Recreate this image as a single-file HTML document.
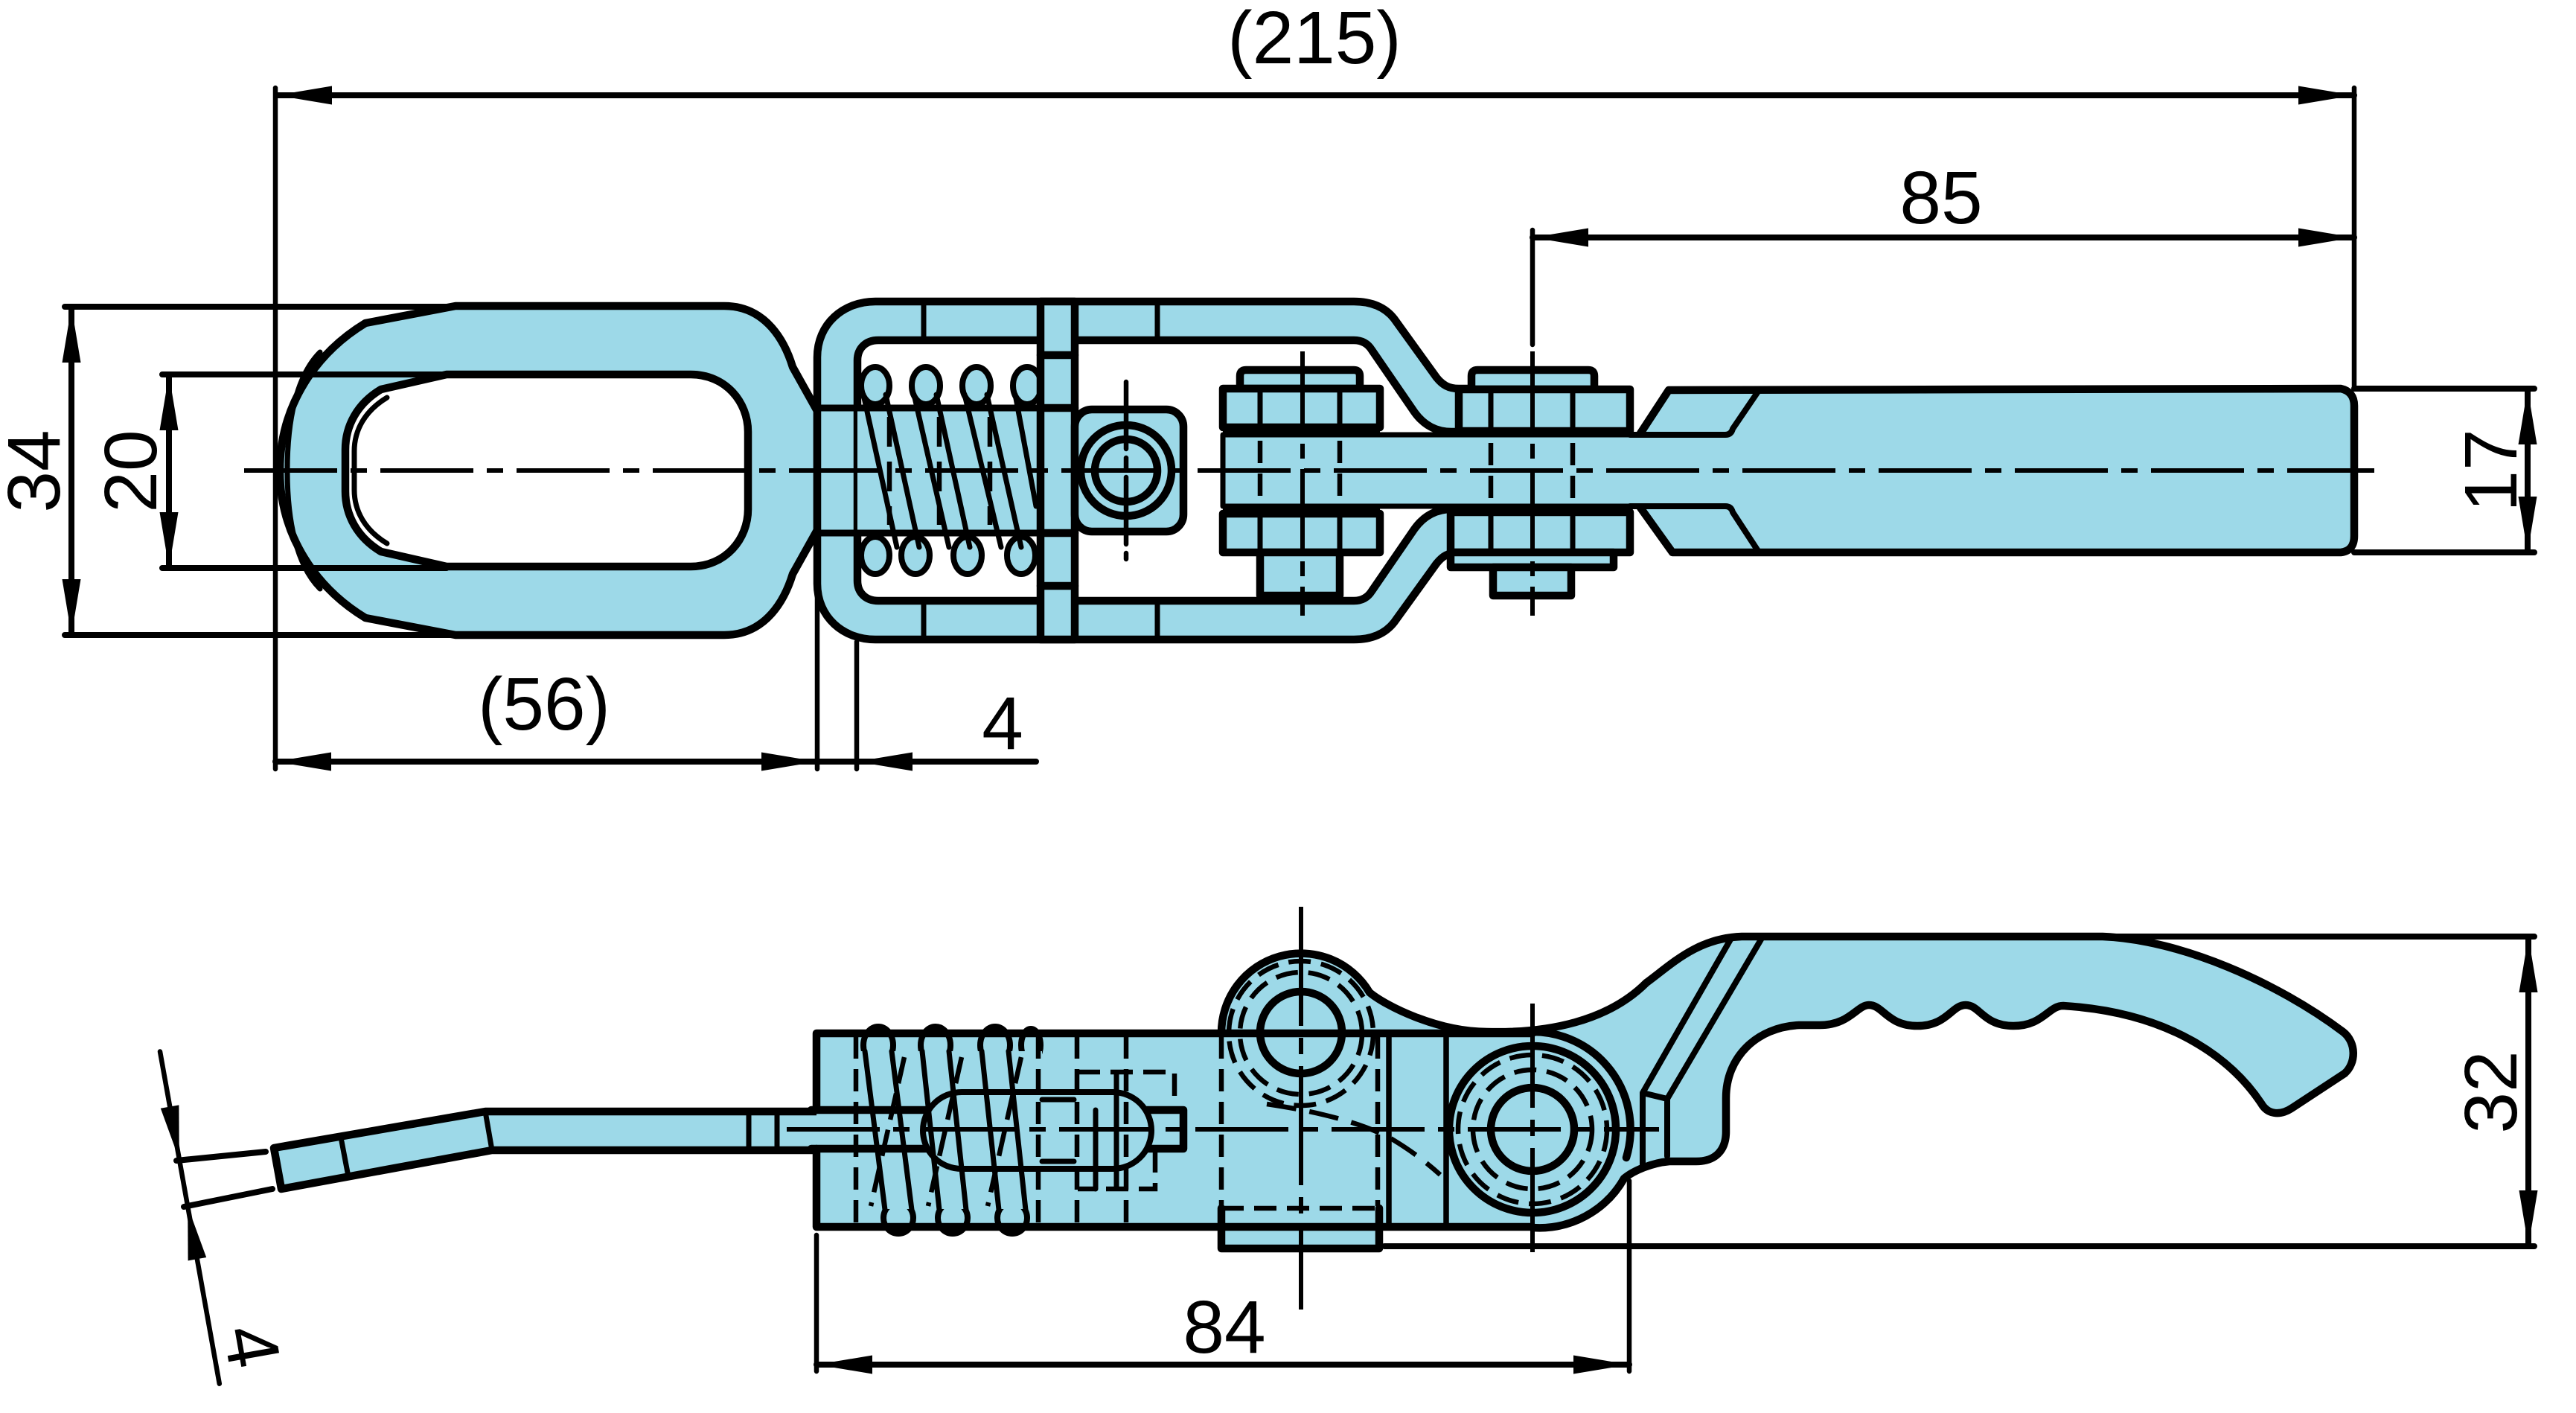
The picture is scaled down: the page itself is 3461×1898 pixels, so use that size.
<!DOCTYPE html>
<html><head><meta charset="utf-8">
<style>
html,body{margin:0;padding:0;background:#fff;}
svg{display:block;}
</style></head><body>
<svg xmlns="http://www.w3.org/2000/svg" width="3461" height="1898" viewBox="0 0 3461 1898">
<defs>
<style>
.o{stroke:#000;stroke-width:10.5;stroke-linejoin:round;stroke-linecap:round}
.t{stroke:#000;stroke-width:7;stroke-linecap:round;stroke-linejoin:round}
.h{stroke:#000;stroke-width:6.5;fill:none;stroke-dasharray:30 14}
.c{stroke:#000;stroke-width:6;fill:none;stroke-dasharray:125 18 22 18}
.d{stroke:#000;stroke-width:8;fill:none;stroke-linecap:round}
.e{stroke:#000;stroke-width:6.5;fill:none;stroke-linecap:round}
.b{fill:#9dd9e8}
.w{fill:#fff}
.n{fill:none}
.k{fill:#000}
text{font-family:"Liberation Sans",sans-serif;font-size:100px;fill:#000;}
</style>
</defs>
<rect x="0" y="0" width="3461" height="1898" fill="#fff"/>

<!-- ================= TOP VIEW ================= -->
<!-- Eye -->
<path class="o b" d="M612,411 L973,411 C1030,411 1055,460 1065,493 L1098,552 L1098,712 L1065,771 C1055,804 1030,853 973,853 L612,853 L491,830 C425,790 376,720 376,632 C376,544 425,474 491,434 Z"/>
<path class="t n" d="M430,473 C398,505 386,565 386,632 C386,699 398,759 430,791"/>
<path class="o w" d="M600,503 L928,503 C975,503 1005,540 1005,580 L1005,684 C1005,724 975,761 928,761 L600,761 L512,741 C480,722 464,692 464,660 L464,604 C464,572 480,542 512,523 Z"/>
<path class="t n" d="M520,534 C490,552 476,578 476,606 L476,658 C476,686 490,712 520,730"/>

<!-- Frame -->
<path class="o b" d="M1098,784 L1098,480 C1098,435 1133,405 1176,405 L1819,405 C1845,405 1862,414 1873,428 L1930,507 C1938,517 1946,522 1960,522 L2003,522 L2003,742 L1960,742 C1946,742 1938,747 1930,757 L1873,836 C1862,850 1845,859 1819,859 L1176,859 C1133,859 1098,829 1098,784 Z"/>
<path class="o w" d="M1152,548 L1152,484 C1152,468 1163,457 1180,457 L1819,457 C1830,457 1838,462 1843,470 L1900,553 C1912,570 1928,580 1950,580 L1962,580 L1962,684 L1950,684 C1928,684 1912,694 1900,711 L1843,794 C1838,802 1830,807 1819,807 L1180,807 C1163,807 1152,796 1152,780 Z"/>
<path class="t n" d="M1241,405 V457 M1241,807 V859 M1555,405 V457 M1555,807 V859"/>

<!-- Rod through spring -->
<rect class="b" x="1152" y="548" width="246" height="168"/>
<path class="o n" d="M1098,548 L1398,548 M1098,716 L1398,716" style="stroke-width:9"/>

<!-- Spring loops (top view) -->
<g class="o b" style="stroke-width:8">
<ellipse cx="1176" cy="518" rx="19" ry="25"/>
<ellipse cx="1244" cy="518" rx="19" ry="25"/>
<ellipse cx="1312" cy="518" rx="19" ry="25"/>
<ellipse cx="1380" cy="518" rx="19" ry="25"/>
<ellipse cx="1176" cy="746" rx="19" ry="25"/>
<ellipse cx="1230" cy="746" rx="19" ry="25"/>
<ellipse cx="1300" cy="746" rx="19" ry="25"/>
<ellipse cx="1372" cy="746" rx="19" ry="25"/>
</g>
<path class="t n" d="M1160,530 L1205,735 M1190,530 L1235,735 M1228,530 L1275,735 M1258,530 L1303,735 M1296,530 L1345,735 M1326,530 L1372,735 M1364,530 L1392,680"/>
<path class="h" d="M1195,560 V705 M1262,560 V705 M1330,560 V705" style="stroke-dasharray:40 20"/>

<!-- Plate -->
<rect class="o b" x="1398" y="405" width="46" height="454"/>
<path class="o n" d="M1398,477 H1444 M1398,787 H1444 M1398,548 H1444 M1398,716 H1444"/>

<!-- Pin block -->
<rect class="o b" x="1444" y="550" width="146" height="164" rx="23"/>
<circle class="o n" cx="1513" cy="632" r="61"/>
<circle class="o n" cx="1513" cy="632" r="42"/>
<path class="e" d="M1513,513 V751" style="stroke-dasharray:90 12 14 12"/>

<!-- Bar -->
<rect class="b" x="1643" y="584" width="570" height="96"/>
<path class="t n" d="M1643,584 H2200 M1643,680 H2200 M1643,584 V680"/>

<!-- Handle -->
<path class="b" d="M2190,584 L2204,584 L2242,524 L3147,522 Q3163,524 3163,545 L3163,720 Q3163,742 3147,742 L2247,742 L2204,680 L2190,680 Z"/>
<path class="o n" d="M2204,582 L2242,524 L3145,522 Q3163,526 3163,545 L3163,720 Q3163,740 3145,742 L2247,742 L2204,682"/>
<path class="t n" d="M2190,584 L2318,584 Q2326,584 2328,576 L2362,526 M2190,680 L2318,680 Q2326,680 2328,688 L2362,740" style="stroke-width:8"/>

<!-- Bolt 1 -->
<path class="o b" d="M1666,522 V505 Q1666,497 1674,497 H1819 Q1827,497 1827,505 V522 Z"/>
<rect class="o b" x="1643" y="522" width="211" height="52"/>
<rect class="o b" x="1643" y="690" width="211" height="52"/>
<rect class="o b" x="1693" y="742" width="107" height="58"/>
<rect class="k" x="1643" y="574" width="211" height="10"/>
<rect class="k" x="1643" y="680" width="211" height="10"/>
<path class="t n" d="M1693,522 V574 M1800,522 V574 M1693,690 V742 M1800,690 V742"/>
<path class="h" d="M1693,592 V672 M1800,592 V672"/>

<!-- Bolt 2 -->
<path class="o b" d="M1977,523 V505 Q1977,497 1985,497 H2134 Q2142,497 2142,505 V523 Z"/>
<rect class="o b" x="1960" y="523" width="230" height="56"/>
<rect class="o b" x="1949" y="688" width="241" height="54"/>
<rect class="o b" x="1949" y="742" width="219" height="20"/>
<rect class="o b" x="2006" y="762" width="105" height="38"/>
<rect class="k" x="1960" y="577" width="230" height="10"/>
<rect class="k" x="1949" y="678" width="241" height="10"/>
<path class="t n" d="M2003,523 V579 M2113,523 V579 M2003,688 V742 M2113,688 V742"/>
<path class="h" d="M2003,595 V672 M2113,595 V672"/>

<!-- Centerlines top view -->
<path class="c" d="M328,632 H3190"/>
<path class="c" d="M1750,472 V827" style="stroke-dasharray:110 14 20 14"/>
<path class="c" d="M2059,472 V827" style="stroke-dasharray:110 14 20 14"/>

<!-- Dimensions top view -->
<!-- 215 -->
<path class="e" d="M370,118 V1033 M3163,118 V522"/>
<path class="d" d="M371,128 H3163"/>
<polygon class="k" points="371,128 446,115.5 446,140.5"/>
<polygon class="k" points="3163,128 3088,115.5 3088,140.5"/>
<text x="1766" y="85" text-anchor="middle">(215)</text>
<!-- 85 -->
<path class="e" d="M2059,309 V463"/>
<path class="d" d="M2059,319 H3163"/>
<polygon class="k" points="2059,319 2134,306.5 2134,331.5"/>
<polygon class="k" points="3163,319 3088,306.5 3088,331.5"/>
<text x="2608" y="300" text-anchor="middle">85</text>
<!-- 34 -->
<path class="d" d="M87,412 H612 M87,853 H612"/>
<path class="d" d="M96,412 V853"/>
<polygon class="k" points="96,412 83.5,487 108.5,487"/>
<polygon class="k" points="96,853 83.5,778 108.5,778"/>
<text transform="translate(80,633) rotate(-90)" text-anchor="middle">34</text>
<!-- 20 -->
<path class="d" d="M218,503 H600 M218,763 H600"/>
<path class="d" d="M227,503 V763"/>
<polygon class="k" points="227,503 214.5,578 239.5,578"/>
<polygon class="k" points="227,763 214.5,688 239.5,688"/>
<text transform="translate(210,633) rotate(-90)" text-anchor="middle">20</text>
<!-- 17 -->
<path class="d" d="M3163,522 H3405 M3163,742 H3405"/>
<path class="d" d="M3396,522 V742"/>
<polygon class="k" points="3396,522 3383.5,597 3408.5,597"/>
<polygon class="k" points="3396,742 3383.5,667 3408.5,667"/>
<text transform="translate(3381,632) rotate(-90)" text-anchor="middle">17</text>
<!-- 56 / 4 -->
<path class="e" d="M1098,790 V1033 M1151,862 V1033"/>
<path class="d" d="M370,1023 H1392"/>
<polygon class="k" points="370,1023 445,1010.5 445,1035.5"/>
<polygon class="k" points="1098,1023 1023,1010.5 1023,1035.5"/>
<polygon class="k" points="1151,1023 1226,1010.5 1226,1035.5"/>
<text x="731" y="980" text-anchor="middle">(56)</text>
<text x="1347" y="1006" text-anchor="middle">4</text>

<!-- ================= BOTTOM VIEW ================= -->
<!-- Strip -->
<path class="b" d="M368,1542 L652,1493 L1100,1493 L1100,1545 L661,1545 L378,1597 Z"/>
<path class="o n" d="M1098,1493 L652,1493 L368,1542 L378,1597 L661,1545 L1098,1545"/>
<path class="t n" d="M652,1493 L661,1545 M459,1533 L467,1575 M1006,1493 V1545 M1044,1493 V1545"/>

<!-- Oblique 4 dimension -->
<path class="e" d="M215,1412.5 L294.8,1858.7"/>
<path class="d" d="M237,1559 L357,1547 M247,1621 L366,1597"/>
<polygon class="k" points="240.8,1557.4 240.4,1484.4 215.8,1488.8"/>
<polygon class="k" points="252.2,1620.4 277.2,1689 252.6,1693.4"/>
<text transform="translate(340,1808) rotate(80)" text-anchor="middle" y="36">4</text>

<!-- Body & lever fills -->
<rect class="b" x="1097" y="1388" width="963" height="260"/>
<path class="b" d="M1641,1389 A107,107 0 0 1 1840,1333 C1860,1350 1930,1386 1998,1386 C2080,1388 2160,1372 2212,1320 C2245,1296 2280,1260 2340,1258 L2825,1258 C2930,1262 3060,1320 3148,1386 C3166,1400 3166,1428 3150,1442 L3080,1488 C3062,1500 3046,1496 3038,1482 C3000,1425 2920,1360 2772,1351 C2752,1351 2745,1378 2705,1378 C2665,1378 2660,1350 2641,1350 C2622,1350 2616,1378 2576,1378 C2536,1378 2530,1350 2511,1350 C2495,1350 2485,1377 2445,1377 L2417,1377 C2360,1380 2319,1420 2319,1475 L2319,1520 C2319,1545 2305,1560 2279,1560 L2243,1560 C2220,1562 2195,1572 2182,1583 A131,131 0 0 1 2059,1649 L1641,1649 Z"/>
<rect class="b" x="1641" y="1645" width="213" height="32"/>

<!-- Spring loops (bottom view) -->
<g class="o b" style="stroke-width:8">
<ellipse cx="1180" cy="1404" rx="20" ry="25"/>
<ellipse cx="1257" cy="1404" rx="20" ry="25"/>
<ellipse cx="1337" cy="1404" rx="20" ry="25"/>
<ellipse cx="1385" cy="1404" rx="13" ry="22"/>
<ellipse cx="1207" cy="1636" rx="20" ry="21"/>
<ellipse cx="1280" cy="1636" rx="20" ry="21"/>
<ellipse cx="1360" cy="1636" rx="20" ry="21"/>
</g>
<rect class="b" x="1140" y="1412" width="260" height="212"/>

<!-- Rod, slot -->
<path class="o n" d="M1090,1491 H1590 V1543 H1090"/>
<rect class="o b" x="1240" y="1467" width="307" height="103" rx="52" style="stroke-width:8"/>
<path class="t n" d="M1472,1491 V1597 M1500,1443 V1595 M1400,1477 H1443 M1400,1560 H1443"/>
<path class="h" d="M1448,1440 H1578 V1491 M1552,1545 V1597 H1448"/>

<!-- Spring wires bottom view -->
<path class="t n" d="M1162,1412 L1189,1625 M1198,1412 L1225,1625 M1239,1412 L1262,1625 M1275,1412 L1298,1625 M1319,1412 L1342,1625 M1355,1412 L1378,1625"/>
<path class="h" d="M1215,1420 L1170,1620 M1292,1420 L1247,1620 M1372,1420 L1327,1620" style="stroke-dasharray:36 14"/>

<!-- Hidden verticals -->
<path class="h" d="M1150,1392 V1645 M1395,1392 V1645 M1447,1392 V1645 M1513,1392 V1645"/>
<path class="h" d="M1641,1623 H1851 M1641,1392 V1620 M1851,1392 V1620"/>

<!-- Body outline -->
<path class="o n" d="M1097,1388 H2059 M1097,1648 H2059 M1097,1388 V1491 M1097,1543 V1648"/>
<path class="o n" d="M1641,1623 V1677 H1853 V1623"/>
<path class="o n" d="M1866,1388 V1648 M1943,1388 V1648" style="stroke-width:7.5"/>

<!-- Lever outline -->
<path class="o n" d="M1641,1389 A107,107 0 0 1 1840,1333 C1860,1350 1930,1386 1998,1386 C2080,1388 2160,1372 2212,1320 C2245,1296 2280,1260 2340,1258 L2825,1258 C2930,1262 3060,1320 3148,1386 C3166,1400 3166,1428 3150,1442 L3080,1488 C3062,1500 3046,1496 3038,1482 C3000,1425 2920,1360 2772,1351 C2752,1351 2745,1378 2705,1378 C2665,1378 2660,1350 2641,1350 C2622,1350 2616,1378 2576,1378 C2536,1378 2530,1350 2511,1350 C2495,1350 2485,1377 2445,1377 L2417,1377 C2360,1380 2319,1420 2319,1475 L2319,1520 C2319,1545 2305,1560 2279,1560 L2243,1560 C2220,1562 2195,1572 2182,1583 A131,131 0 0 1 2059,1649"/>
<path class="o n" d="M2059,1386 A131,131 0 0 1 2185,1555"/>
<path class="t n" d="M2325,1262 L2207,1468 L2240,1476 L2366,1262 M2207,1468 V1567 M2240,1476 V1553" style="stroke-width:8"/>

<!-- Boss & pivot circles -->
<circle class="o n" cx="1748" cy="1387" r="55"/>
<circle class="h" cx="1748" cy="1388" r="97"/>
<circle class="h" cx="1748" cy="1388" r="82"/>
<circle class="o n" cx="2059" cy="1517" r="112"/>
<circle class="o n" cx="2059" cy="1517" r="56"/>
<circle class="h" cx="2059" cy="1517" r="100"/>
<circle class="h" cx="2059" cy="1517" r="80"/>
<path class="h" d="M1702,1483 C1770,1493 1830,1508 1870,1530 C1895,1545 1915,1560 1935,1578" style="stroke-dasharray:40 18"/>

<!-- Centerlines bottom view -->
<path class="c" d="M1057,1517 H2229"/>
<path class="c" d="M1748,1218 V1759" style="stroke-dasharray:160 16 22 16"/>
<path class="c" d="M2059,1348 V1690" style="stroke-dasharray:140 16 22 16"/>

<!-- 32 -->
<path class="d" d="M2825,1258 H3405 M1860,1674 H3405"/>
<path class="d" d="M3397,1258 V1674"/>
<polygon class="k" points="3397,1258 3384.5,1333 3409.5,1333"/>
<polygon class="k" points="3397,1674 3384.5,1599 3409.5,1599"/>
<text transform="translate(3381,1467) rotate(-90)" text-anchor="middle">32</text>

<!-- 84 -->
<path class="e" d="M1097,1659 V1842 M2189,1586 V1842"/>
<path class="d" d="M1097,1833 H2189"/>
<polygon class="k" points="1097,1833 1172,1820.5 1172,1845.5"/>
<polygon class="k" points="2189,1833 2114,1820.5 2114,1845.5"/>
<text x="1645" y="1817" text-anchor="middle">84</text>
</svg>
</body></html>
